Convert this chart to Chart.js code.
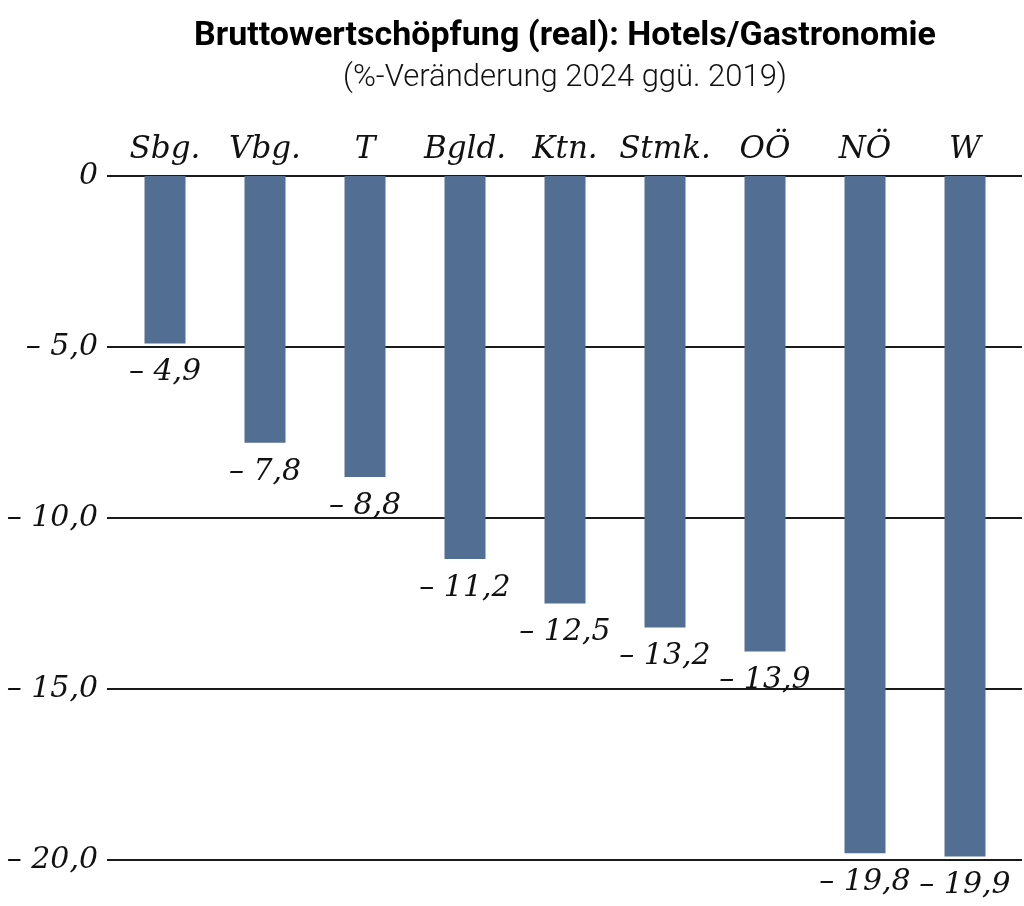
<!DOCTYPE html>
<html>
<head>
<meta charset="utf-8">
<script src="https://cdn.jsdelivr.net/npm/chart.js@4.4.1/dist/chart.umd.min.js"></script>
<style>
  html, body { margin: 0; padding: 0; background: #fff; }
  #wrap { width: 1024px; height: 906px; }
</style>
</head>
<body>
<div id="wrap"><canvas id="bws-chart" width="1024" height="906"></canvas></div>
<script>
// Bundesländer, sortiert wie im Original
var laender = ['Sbg.', 'Vbg.', 'T', 'Bgld.', 'Ktn.', 'Stmk.', 'OÖ', 'NÖ', 'W'];
var veraenderung = [-4.9, -7.8, -8.8, -11.2, -12.5, -13.2, -13.9, -19.8, -19.9];
var yTicks = [0, -5, -10, -15, -20];

var serif = '"DejaVu Serif", "Liberation Serif", serif';

function fmt(v, digits) {
    if (v === 0) return '0';
    return '– ' + Math.abs(v).toFixed(digits).replace('.', ',');
}

// horizontale Linien etwas breiter als die Plotfläche
var gridPlugin = {
    id: 'gridLines',
    beforeDatasetsDraw: function(chart) {
        var ctx = chart.ctx;
        var area = chart.chartArea;
        var y = chart.scales.y;
        ctx.save();
        ctx.strokeStyle = '#1a1a1a';
        ctx.lineWidth = 2;
        yTicks.forEach(function(t) {
            var py = Math.round(y.getPixelForValue(t));
            ctx.beginPath();
            ctx.moveTo(area.left - 8, py);
            ctx.lineTo(area.right + 7, py);
            ctx.stroke();
        });
        ctx.restore();
    }
};

// Werte unter den Balken
var valuePlugin = {
    id: 'valueLabels',
    afterDatasetsDraw: function(chart) {
        var ctx = chart.ctx;
        var meta = chart.getDatasetMeta(0);
        ctx.save();
        ctx.font = 'italic 30px ' + serif;
        ctx.fillStyle = '#111';
        ctx.textAlign = 'center';
        ctx.textBaseline = 'top';
        meta.data.forEach(function(bar, i) {
            ctx.fillText(fmt(veraenderung[i], 1), bar.x, bar.y + 14);
        });
        ctx.restore();
    }
};

var ctx = document.getElementById('bws-chart');

var chart = new Chart(ctx, {
    type: 'bar',
    data: {
        labels: laender,
        datasets: [{
            label: 'Bruttowertschöpfung',
            data: veraenderung,
            backgroundColor: '#536e93',
            borderWidth: 0,
            categoryPercentage: 1,
            barPercentage: 0.41
        }]
    },
    options: {
        responsive: false,
        animation: false,
        devicePixelRatio: 1,
        layout: { padding: { left: 0, right: 9, top: 0, bottom: 46 } },
        plugins: {
            legend: { display: false },
            tooltip: { enabled: false },
            title: {
                display: true,
                text: 'Bruttowertschöpfung (real): Hotels/Gastronomie',
                fullSize: false,
                color: '#000',
                font: { family: 'Roboto', size: 34, weight: 'bold', lineHeight: 1.2 },
                padding: { top: 16, bottom: 0 }
            },
            subtitle: {
                display: true,
                text: '(%-Veränderung 2024 ggü. 2019)',
                fullSize: false,
                color: '#111',
                font: { family: 'Roboto', size: 31, weight: 300, lineHeight: 1.2 },
                padding: { top: 3, bottom: 0 }
            }
        },
        scales: {
            x: {
                position: 'top',
                grid: { display: false, drawTicks: false },
                border: { display: false },
                ticks: {
                    color: '#111',
                    font: { family: serif, size: 31, style: 'italic' },
                    padding: 7,
                    maxRotation: 0,
                    autoSkip: false
                },
                afterFit: function(scale) { scale.height = 79; }
            },
            y: {
                min: -20,
                max: 0,
                grid: { display: false, drawTicks: false },
                border: { display: false },
                afterBuildTicks: function(scale) {
                    scale.ticks = yTicks.map(function(v) { return { value: v }; });
                },
                ticks: {
                    color: '#111',
                    font: { family: serif, size: 30, style: 'italic' },
                    padding: 17,
                    callback: function(value) { return fmt(value, 1); }
                },
                afterFit: function(scale) { scale.width = 115; }
            }
        }
    },
    plugins: [gridPlugin, valuePlugin]
});
</script>
</body>
</html>
